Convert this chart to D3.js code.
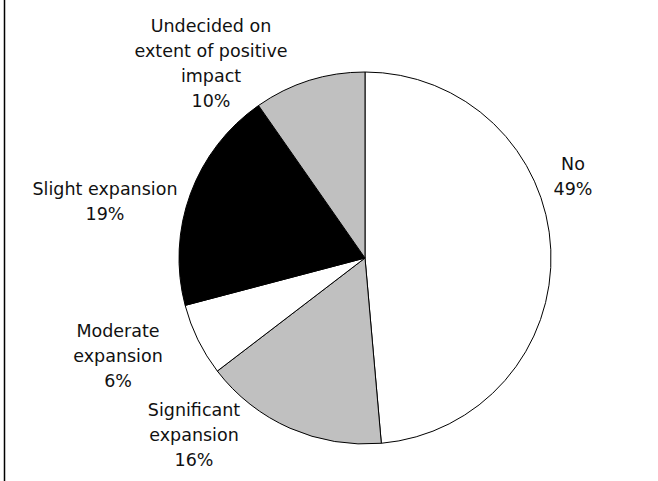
<!DOCTYPE html>
<html>
<head>
<meta charset="utf-8">
<script src="https://cdn.jsdelivr.net/npm/d3@7"></script>
<style>
  html, body { margin: 0; padding: 0; background: #fff; }
  svg { display: block; }
  text { font-family: "DejaVu Sans", Verdana, sans-serif; font-size: 17.5px; fill: #111; }
</style>
</head>
<body>
<svg id="chart" width="658" height="481"></svg>
<script>
// slices, clockwise from 12 o'clock
let categories = ["No", "Significant expansion", "Moderate expansion", "Slight expansion", "Undecided on extent of positive impact"];
let values = [48.6, 16.0, 6.3, 19.4, 9.7];
let percentLabels = ["49%", "16%", "6%", "19%", "10%"];
// label text broken in lines like the original
let labelLines = [
    ["No"],
    ["Significant", "expansion"],
    ["Moderate", "expansion"],
    ["Slight expansion"],
    ["Undecided on", "extent of positive", "impact"]
];

let fills = ["#ffffff", "#c0c0c0", "#ffffff", "#000000", "#c0c0c0"];

let svg = d3.select("#chart");
let cx = 365, cy = 258, radius = 186;
let lineHeight = 25;

// where each label block is centered, relative to pie center
let labelOffsets = [[208, -82], [-171, 177], [-247, 98], [-260, -57], [-154, -195]];

// left frame line
svg.append("line")
    .attr("x1", 4.5).attr("x2", 4.5)
    .attr("y1", 0).attr("y2", 481)
    .attr("stroke", "#000")
    .attr("stroke-width", 1.5);

let pie = d3.pie().sort(null).value(d => d)(values);
let arc = d3.arc().innerRadius(0).outerRadius(radius);

let g = svg.append("g").attr("transform", `translate(${cx},${cy})`);

g.selectAll("path")
    .data(pie)
    .enter()
    .append("path")
    .attr("d", arc)
    .attr("fill", (d, i) => fills[i])
    .attr("stroke", "#000")
    .attr("stroke-width", 1);

let labels = g.selectAll("text.lbl")
    .data(pie)
    .enter()
    .append("text")
    .attr("class", "lbl")
    .attr("text-anchor", "middle");

labels.each(function (d, i) {
    let lines = labelLines[i].concat([percentLabels[i]]);
    let off = labelOffsets[i];
    // baseline of first line so the block is centered on the offset
    let y0 = off[1] - (lines.length - 1) * lineHeight / 2 + 6;
    let t = d3.select(this);
    lines.forEach((s, k) => {
        t.append("tspan")
            .attr("x", off[0])
            .attr("y", y0 + k * lineHeight)
            .text(s);
    });
});
</script>
</body>
</html>
